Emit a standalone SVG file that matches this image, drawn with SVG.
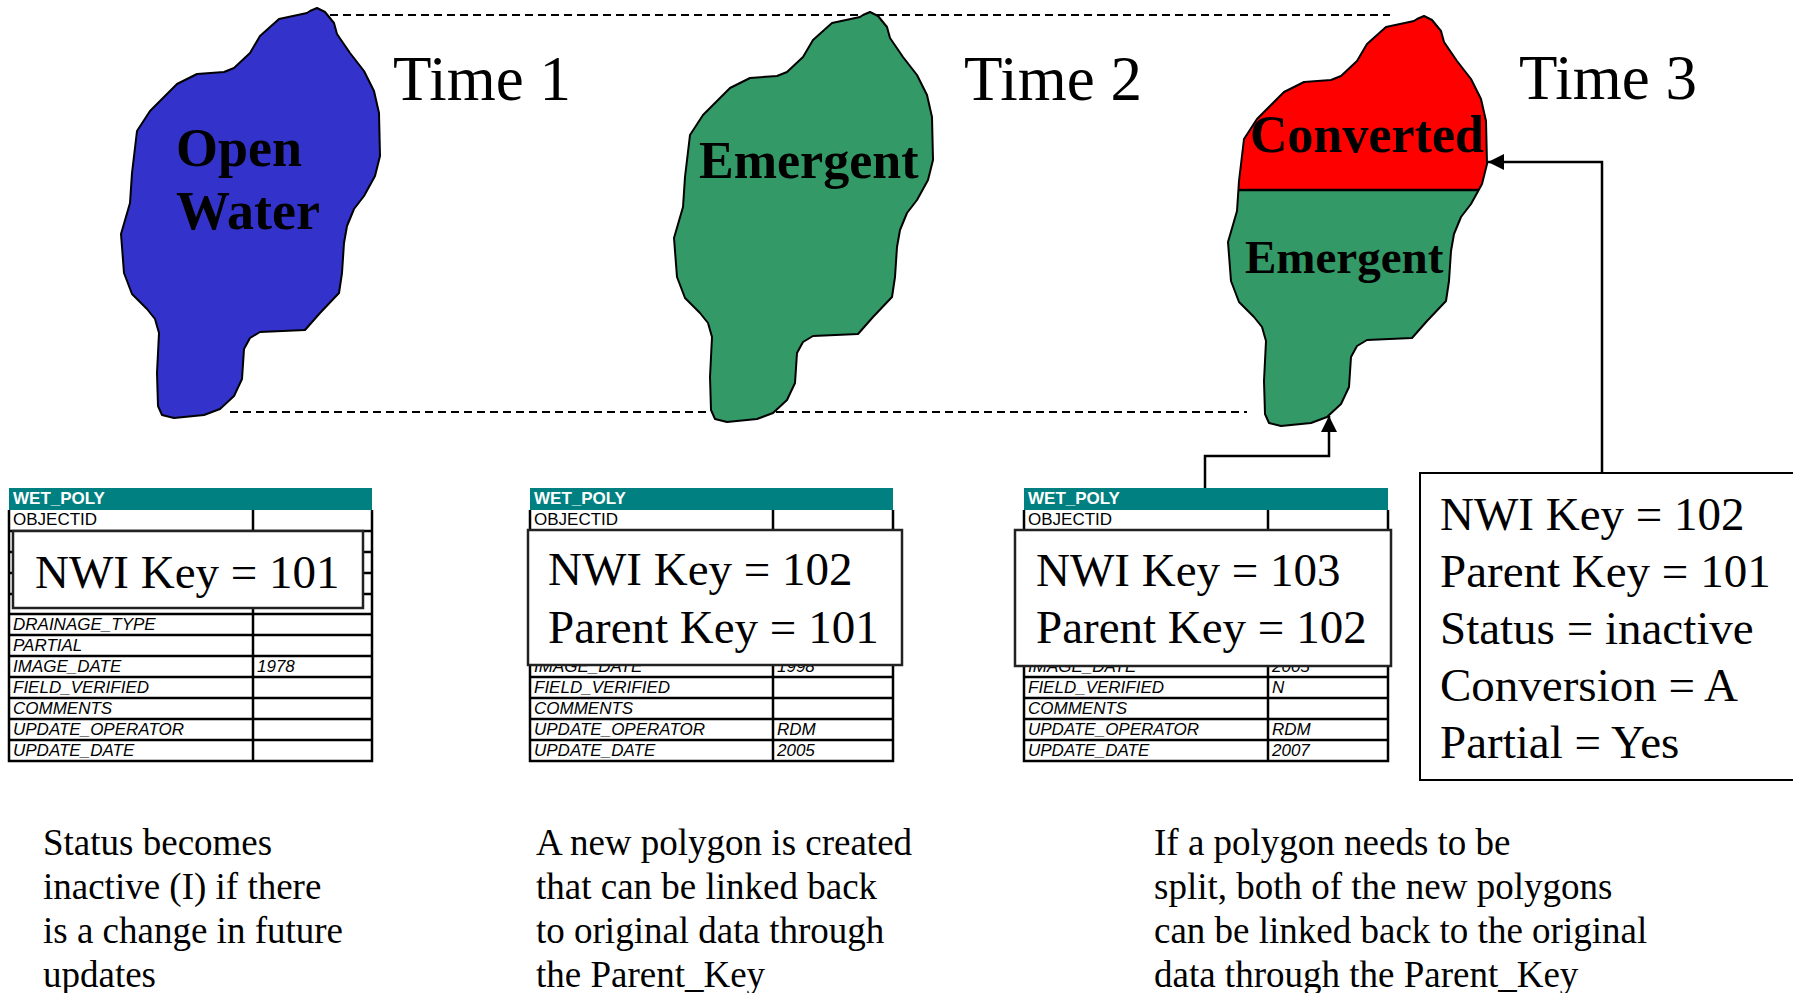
<svg xmlns="http://www.w3.org/2000/svg" xmlns:xlink="http://www.w3.org/1999/xlink" width="1793" height="993" viewBox="0 0 1793 993">
<style>
.serif{font-family:"Liberation Serif","Times New Roman",serif;fill:#000}
.time{font-size:63px}
.blab{font-weight:bold}
.key{font-size:47px}
.note{font-size:37px}
.sans{font-family:"Liberation Sans",Arial,sans-serif;font-size:17px;fill:#000}
.it{font-style:italic}
.hdr{font-family:"Liberation Sans",Arial,sans-serif;font-size:17px;font-weight:bold;fill:#fff}
.blob{stroke:#000;stroke-width:2;stroke-linejoin:round}
.grid{stroke:#000;stroke-width:2.5;fill:none}
.ov{fill:#fff;stroke:#222;stroke-width:2.5}
.dash{stroke:#000;stroke-width:1.8;stroke-dasharray:8 5;fill:none}
.conn{stroke:#000;stroke-width:2.5;fill:none}
</style>
<defs>
<path id="blobshape" d="M863,15 L870,12 L878,16 L887,27 L890,38 L903,57 L917,75 L927,95 L932,117 L933,160 L928,180 L917,200 L907,213 L900,230 L897,247 L895,277 L892,297 L873,317 L858,334 L813,336 L803,342 L797,353 L795,383 L787,400 L773,413 L757,419 L727,422 L715,419 L711,410 L710,377 L712,337 L708,323 L700,313 L685,298 L677,277 L674,238 L683,207 L685,177 L690,135 L703,115 L730,88 L750,78 L777,76 L787,72 L803,57 L813,40 L832,23 L860,17 Z"/>
<clipPath id="topclip" clipPathUnits="userSpaceOnUse"><rect x="1150" y="0" width="450" height="190"/></clipPath>
<marker id="arr" markerUnits="userSpaceOnUse" markerWidth="18" markerHeight="16" refX="16" refY="8" orient="auto"><path d="M0,0 L16,8 L0,16 Z" fill="#000"/></marker>
</defs>
<rect width="1793" height="993" fill="#fff"/>

<g id="timelines">
<line class="dash" x1="330" y1="15" x2="1390" y2="15"/>
<line class="dash" x1="230" y1="412" x2="1247" y2="412"/>
</g>

<g id="blob1">
<use xlink:href="#blobshape" href="#blobshape" class="blob" fill="#3333CC" transform="translate(-553,-4)"/>
<text class="serif blab" font-size="54" x="176" y="166">Open</text>
<text class="serif blab" font-size="54" x="176" y="229">Water</text>
</g>
<g id="time1"><text class="serif time" x="393" y="100">Time 1</text></g>

<g id="blob2">
<use xlink:href="#blobshape" href="#blobshape" class="blob" fill="#339966"/>
<text class="serif blab" font-size="52" x="699" y="178">Emergent</text>
</g>
<g id="time2"><text class="serif time" x="964" y="100">Time 2</text></g>

<g id="blob3">
<use xlink:href="#blobshape" href="#blobshape" fill="#339966" transform="translate(554,4)"/>
<g clip-path="url(#topclip)"><use xlink:href="#blobshape" href="#blobshape" fill="#FF0000" transform="translate(554,4)"/></g>
<line x1="1238" y1="190" x2="1479" y2="190" stroke="#000" stroke-width="2.5"/>
<use xlink:href="#blobshape" href="#blobshape" class="blob" fill="none" transform="translate(554,4)"/>
<text class="serif blab" font-size="52" x="1250" y="152">Converted</text>
<text class="serif blab" font-size="47" x="1245" y="273">Emergent</text>
</g>
<g id="time3"><text class="serif time" x="1519" y="99">Time 3</text></g>

<g id="table1">
<rect x="9" y="488" width="363" height="22" fill="#008080"/>
<text class="hdr" x="13" y="504">WET_POLY</text>
<path class="grid" d="M9,510 V761 H372 V510 M253,510 V761 M9,531 H372 M9,552 H372 M9,573 H372 M9,594 H372 M9,614 H372 M9,635 H372 M9,656 H372 M9,677 H372 M9,698 H372 M9,719 H372 M9,740 H372"/>
<text class="sans" x="13" y="525">OBJECTID</text>
<text class="sans it" x="13" y="630">DRAINAGE_TYPE</text>
<text class="sans it" x="13" y="651">PARTIAL</text>
<text class="sans it" x="13" y="672">IMAGE_DATE</text>
<text class="sans it" x="257" y="672">1978</text>
<text class="sans it" x="13" y="693">FIELD_VERIFIED</text>
<text class="sans it" x="13" y="714">COMMENTS</text>
<text class="sans it" x="13" y="735">UPDATE_OPERATOR</text>
<text class="sans it" x="13" y="756">UPDATE_DATE</text>
<rect class="ov" x="13" y="531" width="350" height="77" stroke="#555"/>
<text class="serif key" x="35" y="588">NWI Key = 101</text>
</g>

<g id="table2">
<rect x="530" y="488" width="363" height="22" fill="#008080"/>
<text class="hdr" x="534" y="504">WET_POLY</text>
<path class="grid" d="M530,510 V761 H893 V510 M773,510 V761 M530,531 H893 M530,552 H893 M530,573 H893 M530,594 H893 M530,614 H893 M530,635 H893 M530,656 H893 M530,677 H893 M530,698 H893 M530,719 H893 M530,740 H893"/>
<text class="sans" x="534" y="525">OBJECTID</text>
<text class="sans it" x="534" y="672">IMAGE_DATE</text>
<text class="sans it" x="777" y="672">1998</text>
<text class="sans it" x="534" y="693">FIELD_VERIFIED</text>
<text class="sans it" x="534" y="714">COMMENTS</text>
<text class="sans it" x="534" y="735">UPDATE_OPERATOR</text>
<text class="sans it" x="777" y="735">RDM</text>
<text class="sans it" x="534" y="756">UPDATE_DATE</text>
<text class="sans it" x="777" y="756">2005</text>
<rect class="ov" x="528" y="530" width="374" height="135"/>
<text class="serif key" x="548" y="585">NWI Key = 102</text>
<text class="serif key" x="548" y="643">Parent Key = 101</text>
</g>

<g id="table3">
<rect x="1024" y="488" width="364" height="22" fill="#008080"/>
<text class="hdr" x="1028" y="504">WET_POLY</text>
<path class="grid" d="M1024,510 V761 H1388 V510 M1268,510 V761 M1024,531 H1388 M1024,552 H1388 M1024,573 H1388 M1024,594 H1388 M1024,614 H1388 M1024,635 H1388 M1024,656 H1388 M1024,677 H1388 M1024,698 H1388 M1024,719 H1388 M1024,740 H1388"/>
<text class="sans" x="1028" y="525">OBJECTID</text>
<text class="sans it" x="1028" y="672">IMAGE_DATE</text>
<text class="sans it" x="1272" y="672">2005</text>
<text class="sans it" x="1028" y="693">FIELD_VERIFIED</text>
<text class="sans it" x="1272" y="693">N</text>
<text class="sans it" x="1028" y="714">COMMENTS</text>
<text class="sans it" x="1028" y="735">UPDATE_OPERATOR</text>
<text class="sans it" x="1272" y="735">RDM</text>
<text class="sans it" x="1028" y="756">UPDATE_DATE</text>
<text class="sans it" x="1272" y="756">2007</text>
<rect class="ov" x="1015" y="530" width="376" height="136"/>
<text class="serif key" x="1036" y="586">NWI Key = 103</text>
<text class="serif key" x="1036" y="643">Parent Key = 102</text>
</g>

<g id="statusbox">
<rect x="1420" y="473" width="400" height="307" fill="#fff" stroke="#000" stroke-width="2"/>
<text class="serif key" x="1440" y="530">NWI Key = 102</text>
<text class="serif key" x="1440" y="587">Parent Key = 101</text>
<text class="serif key" x="1440" y="644">Status = inactive</text>
<text class="serif key" x="1440" y="701">Conversion = A</text>
<text class="serif key" x="1440" y="758">Partial = Yes</text>
</g>

<g id="connectors">
<path class="conn" d="M1205,488 V456 H1329 V416" marker-end="url(#arr)"/>
<path class="conn" d="M1602,473 V162 H1488" marker-end="url(#arr)"/>
</g>

<g id="note1" class="serif note">
<text x="43" y="855">Status becomes</text>
<text x="43" y="899">inactive (I) if there</text>
<text x="43" y="943">is a change in future</text>
<text x="43" y="987">updates</text>
</g>
<g id="note2" class="serif note">
<text x="536" y="855">A new polygon is created</text>
<text x="536" y="899">that can be linked back</text>
<text x="536" y="943">to original data through</text>
<text x="536" y="987">the Parent_Key</text>
</g>
<g id="note3" class="serif note">
<text x="1154" y="855">If a polygon needs to be</text>
<text x="1154" y="899">split, both of the new polygons</text>
<text x="1154" y="943">can be linked back to the original</text>
<text x="1154" y="987">data through the Parent_Key</text>
</g>
</svg>
